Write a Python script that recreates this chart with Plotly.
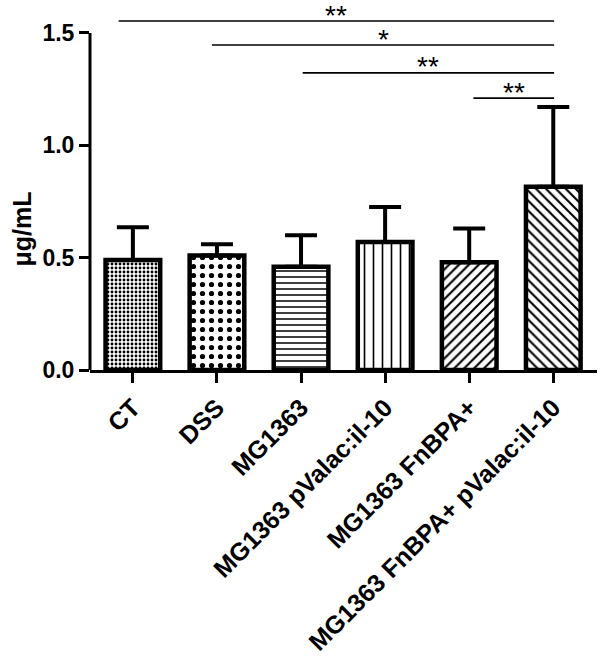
import plotly.graph_objects as go

categories = ["CT", "DSS", "MG1363", "MG1363 pValac:il-10", "MG1363 FnBPA+",
              "MG1363 FnBPA+ pValac:il-10"]
means = [0.49, 0.51, 0.46, 0.57, 0.48, 0.815]
errors = [0.145, 0.05, 0.14, 0.155, 0.15, 0.355]
y_ticks = [0.0, 0.5, 1.0, 1.5]
y_tick_labels = ["0.0", "0.5", "1.0", "1.5"]
y_title = "μg/mL"

# significance comparisons: (start position, end position, level, label)
sig_start = [-0.17, 0.94, 2.02, 4.05]
sig_end = [5.01, 5.01, 5.01, 5.01]
sig_level = [1.553, 1.446, 1.322, 1.210]
sig_label = ["**", "*", "**", "**"]

pattern_shapes = [".", ".", "-", "|", "/", "\\"]
pattern_sizes = [4, 9, 6, 9, 7, 7]
pattern_solid = [0.4, 0.26, 0.25, 0.18, 0.3, 0.3]

FONT = "Liberation Sans, Arial, sans-serif"

fig = go.Figure()
x_pos = list(range(len(categories)))
fig.add_trace(go.Bar(
    x=x_pos, y=means, width=0.65,
    marker=dict(
        color="white",
        line=dict(color="black", width=4.5),
        pattern=dict(shape=pattern_shapes, size=pattern_sizes,
                     solidity=pattern_solid, fgcolor="black",
                     bgcolor="white", fgopacity=1),
    ),
    error_y=dict(type="data", symmetric=False, array=errors,
                 arrayminus=[0] * len(errors), color="black",
                 thickness=4, width=16),
    showlegend=False,
))

# significance bars
for s, e, lv, lab in zip(sig_start, sig_end, sig_level, sig_label):
    fig.add_trace(go.Scatter(x=[s, e], y=[lv, lv], mode="lines",
                             line=dict(color="black", width=1.6),
                             showlegend=False, hoverinfo="skip",
                             cliponaxis=False))
    fig.add_annotation(x=(s + e) / 2, y=lv, text=lab, showarrow=False,
                       xref="x", yref="y", yanchor="middle", yshift=6,
                       font=dict(family=FONT, size=28, color="black"))

# y axis line only from 0 to 1.5
fig.add_shape(type="line", xref="paper", yref="y", x0=0, x1=0,
              y0=0, y1=y_ticks[-1], line=dict(color="black", width=3))

fig.add_annotation(text=y_title, xref="paper", yref="y", x=0, y=0.75,
                   xshift=-68, yshift=-28, xanchor="center", yanchor="middle",
                   textangle=-90, showarrow=False,
                   font=dict(family=FONT, size=25, color="black", weight="bold"))

fig.update_layout(
    template="none",
    width=600, height=658,
    margin=dict(l=90, r=3, t=10, b=288, autoexpand=False),
    plot_bgcolor="white", paper_bgcolor="white",
    xaxis=dict(
        range=[-0.51, 5.52], tickmode="array", tickvals=x_pos,
        ticktext=categories, tickangle=-45, showline=True, automargin=False,
        linecolor="black", linewidth=3, ticks="outside", ticklen=10,
        tickwidth=3, tickcolor="black", showgrid=False, zeroline=False,
        tickfont=dict(family=FONT, size=25, color="black", weight="bold"),
    ),
    yaxis=dict(
        range=[0, 1.602], tickmode="array", tickvals=y_ticks, automargin=False,
        ticktext=y_tick_labels, showline=False, ticks="outside",
        ticklen=10, tickwidth=3, tickcolor="black", showgrid=False,
        zeroline=False,
        tickfont=dict(family=FONT, size=23, color="black", weight="bold"),
    ),
)

fig.write_html("out.html",
               config={"displayModeBar": False},
               post_script="document.body.style.margin='0';"
                           "document.body.style.overflow='hidden';")
